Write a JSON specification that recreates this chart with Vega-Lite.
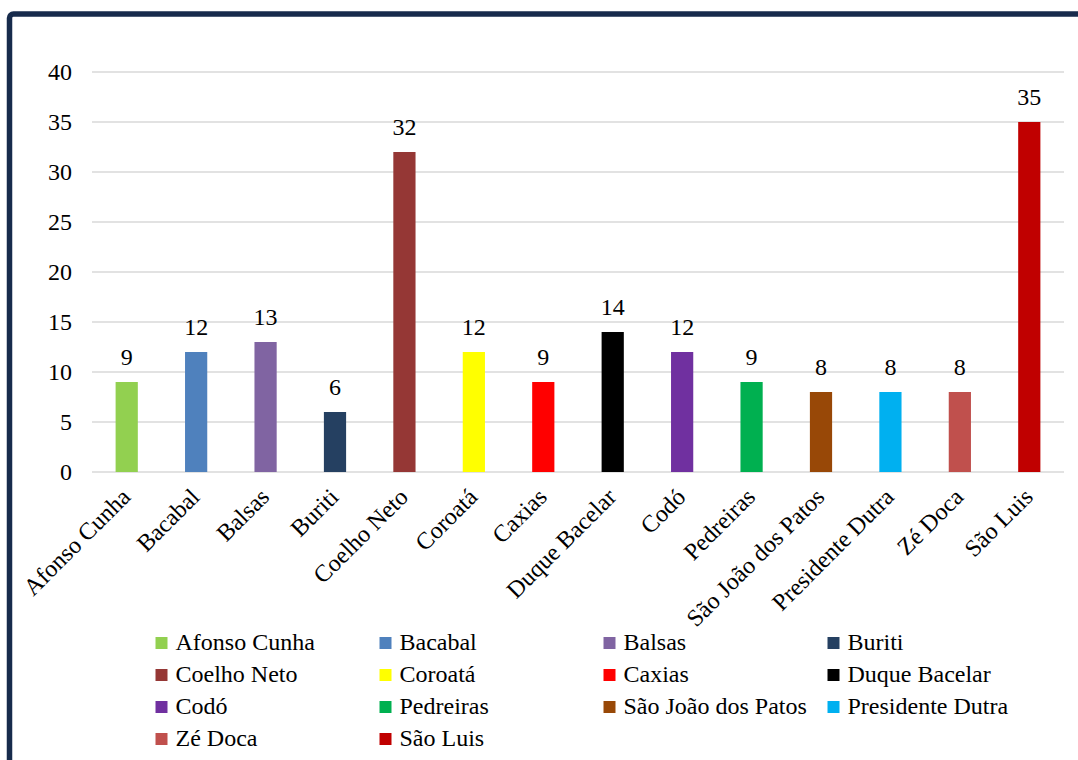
{
  "$schema": "https://vega.github.io/schema/vega-lite/v6.json",
  "width": 1080,
  "height": 750,
  "autosize": {"type": "none"},
  "padding": {"left": 9.5, "top": 14, "right": 0, "bottom": 0},
  "background": "white",
  "config": {
    "view": {"stroke": "#172b4c", "strokeWidth": 5.5, "cornerRadius": 4, "fill": "white"},
    "font": "Liberation Serif"
  },
  "datasets": {
    "bars": [
      {"municipio": "Afonso Cunha", "valor": 9},
      {"municipio": "Bacabal", "valor": 12},
      {"municipio": "Balsas", "valor": 13},
      {"municipio": "Buriti", "valor": 6},
      {"municipio": "Coelho Neto", "valor": 32},
      {"municipio": "Coroatá", "valor": 12},
      {"municipio": "Caxias", "valor": 9},
      {"municipio": "Duque Bacelar", "valor": 14},
      {"municipio": "Codó", "valor": 12},
      {"municipio": "Pedreiras", "valor": 9},
      {"municipio": "São João dos Patos", "valor": 8},
      {"municipio": "Presidente Dutra", "valor": 8},
      {"municipio": "Zé Doca", "valor": 8},
      {"municipio": "São Luis", "valor": 35}
    ],
    "grid": [{"v": 0}, {"v": 5}, {"v": 10}, {"v": 15}, {"v": 20}, {"v": 25}, {"v": 30}, {"v": 35}, {"v": 40}]
  },
  "layer": [
    {
      "data": {"name": "grid"},
      "mark": {"type": "rule", "color": "#d9d9d9", "strokeWidth": 1.5},
      "encoding": {
        "y": {"field": "v", "type": "quantitative", "title": null, "scale": {"domain": [0, 40], "range": [458, 58], "nice": false, "zero": true}},
        "x": {"datum": "Afonso Cunha", "type": "nominal", "bandPosition": 0, "title": null,
          "scale": {"domain": ["Afonso Cunha", "Bacabal", "Balsas", "Buriti", "Coelho Neto", "Coroatá", "Caxias", "Duque Bacelar", "Codó", "Pedreiras", "São João dos Patos", "Presidente Dutra", "Zé Doca", "São Luis"], "range": [82.5, 1054.5], "paddingInner": 0, "paddingOuter": 0}},
        "x2": {"datum": "São Luis", "bandPosition": 1}
      }
    },
    {
      "data": {"name": "bars"},
      "mark": {"type": "bar", "width": {"band": 0.32}},
      "encoding": {
        "x": {
          "field": "municipio", "type": "nominal", "sort": null,
          "scale": {"domain": ["Afonso Cunha", "Bacabal", "Balsas", "Buriti", "Coelho Neto", "Coroatá", "Caxias", "Duque Bacelar", "Codó", "Pedreiras", "São João dos Patos", "Presidente Dutra", "Zé Doca", "São Luis"], "range": [82.5, 1054.5], "paddingInner": 0, "paddingOuter": 0},
          "axis": {"title": null, "labelAngle": -45, "labelFontSize": 24, "labelFont": "Liberation Serif", "labelColor": "#000000", "domain": false, "ticks": false, "grid": false, "offset": -292, "labelPadding": 21, "labelLimit": 400}
        },
        "y": {
          "field": "valor", "type": "quantitative",
          "scale": {"domain": [0, 40], "range": [458, 58], "nice": false, "zero": true},
          "axis": {"title": null, "values": [0, 5, 10, 15, 20, 25, 30, 35, 40], "grid": false, "domain": false, "ticks": false, "labelFontSize": 24, "labelFont": "Liberation Serif", "labelColor": "#000000", "labelPadding": 8, "offset": -70}
        },
        "color": {
          "field": "municipio", "type": "nominal",
          "scale": {
            "domain": ["Afonso Cunha", "Coelho Neto", "Codó", "Presidente Dutra", "Bacabal", "Coroatá", "Pedreiras", "Zé Doca", "Balsas", "Caxias", "São João dos Patos", "São Luis", "Buriti", "Duque Bacelar"],
            "range": ["#92D050", "#953735", "#7030A0", "#00B0F0", "#4F81BD", "#FFFF00", "#00B050", "#C0504D", "#8064A2", "#FF0000", "#984807", "#C00000", "#254061", "#000000"]
          },
          "legend": {"title": null, "orient": "none", "legendX": 140, "legendY": 617, "columns": 4, "gridAlign": "all", "columnPadding": 14, "rowPadding": 8, "symbolType": "square", "symbolSize": 144, "symbolStrokeWidth": 0, "labelFontSize": 24, "labelFont": "Liberation Serif", "labelColor": "#000000", "labelOffset": 2, "labelLimit": 300, "padding": 0}
        }
      }
    },
    {
      "data": {"name": "bars"},
      "mark": {"type": "text", "dy": -24, "fontSize": 24, "font": "Liberation Serif", "color": "#000000", "baseline": "middle"},
      "encoding": {
        "x": {"field": "municipio", "type": "nominal", "sort": null, "title": null},
        "y": {"field": "valor", "type": "quantitative", "title": null},
        "text": {"field": "valor", "type": "quantitative"}
      }
    }
  ]
}
